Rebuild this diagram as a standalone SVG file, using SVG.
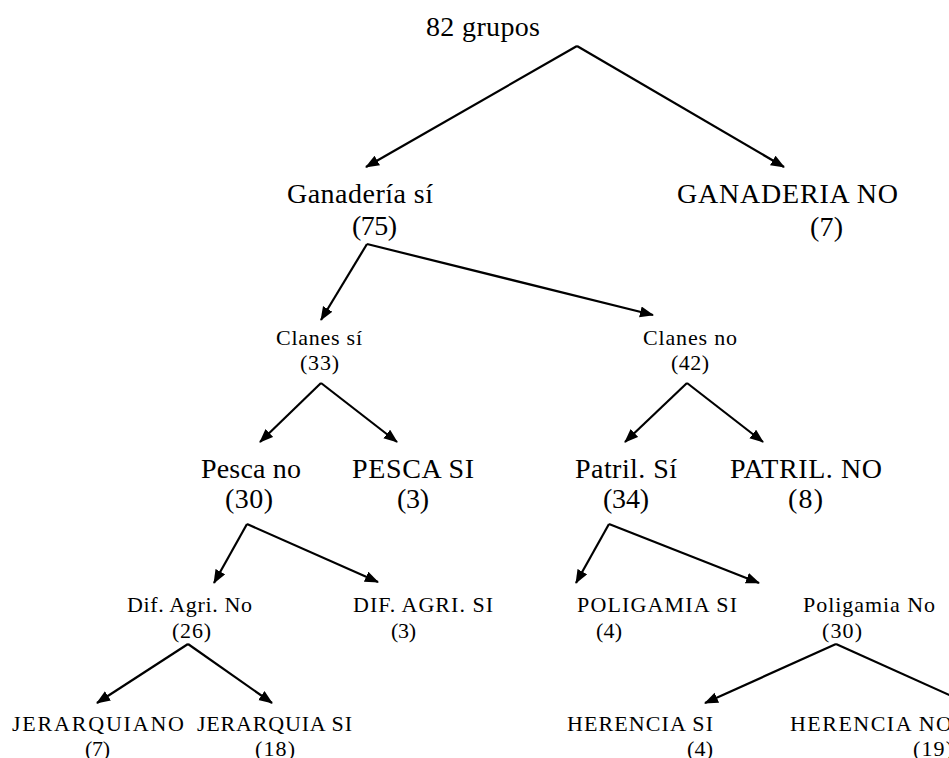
<svg xmlns="http://www.w3.org/2000/svg" width="949" height="758" viewBox="0 0 949 758">
<style>
text{font-family:"Liberation Serif","Times New Roman",serif;fill:#000}
.b{font-size:28px}
.s{font-size:22px}
.c line{stroke:#000;stroke-width:2.2;fill:none}
.c .a{marker-end:url(#ah)}
</style>
<defs>
<marker id="ah" markerUnits="userSpaceOnUse" markerWidth="14" markerHeight="12" refX="13" refY="5.5" orient="auto">
<path d="M0,0 L14,5.5 L0,11 z" fill="#000"/>
</marker>
</defs>
<rect width="949" height="758" fill="#fff"/>
<g id="connectors" class="c">
<line x1="577" y1="46" x2="366" y2="167" class="a"/>
<line x1="577" y1="46" x2="784" y2="167" class="a"/>
<line x1="367" y1="244" x2="321" y2="320" class="a"/>
<line x1="367" y1="244" x2="653" y2="315" class="a"/>
<line x1="321" y1="383" x2="260" y2="442" class="a"/>
<line x1="321" y1="383" x2="397" y2="442" class="a"/>
<line x1="687" y1="383" x2="625" y2="442" class="a"/>
<line x1="687" y1="383" x2="763" y2="442" class="a"/>
<line x1="247" y1="524" x2="214" y2="583" class="a"/>
<line x1="247" y1="524" x2="378" y2="582" class="a"/>
<line x1="609" y1="524" x2="576" y2="583" class="a"/>
<line x1="609" y1="524" x2="759" y2="583" class="a"/>
<line x1="188" y1="644" x2="97" y2="703" class="a"/>
<line x1="188" y1="644" x2="272" y2="703" class="a"/>
<line x1="836" y1="644" x2="705" y2="703" class="a"/>
<line x1="836" y1="644" x2="967" y2="703" class="a"/>
</g>
<g id="n-root"><text class="b" x="426" y="36" textLength="114" lengthAdjust="spacing">82 grupos</text></g>
<g id="n-ganaderia-si">
<text class="b" x="287" y="203" textLength="146" lengthAdjust="spacing">Ganadería sí</text>
<text class="b" x="352" y="235" textLength="45" lengthAdjust="spacing">(75)</text>
</g>
<g id="n-ganaderia-no">
<text class="b" x="677" y="203" textLength="221" lengthAdjust="spacing">GANADERIA NO</text>
<text class="b" x="810" y="236" textLength="33" lengthAdjust="spacing">(7)</text>
</g>
<g id="n-clanes-si">
<text class="s" x="276" y="345" textLength="86" lengthAdjust="spacing">Clanes sí</text>
<text class="s" x="300" y="370" textLength="39" lengthAdjust="spacing">(33)</text>
</g>
<g id="n-clanes-no">
<text class="s" x="643" y="345" textLength="94" lengthAdjust="spacing">Clanes no</text>
<text class="s" x="671" y="370" textLength="38" lengthAdjust="spacing">(42)</text>
</g>
<g id="n-pesca-no">
<text class="b" x="201" y="478" textLength="100" lengthAdjust="spacing">Pesca no</text>
<text class="b" x="225" y="508" textLength="48" lengthAdjust="spacing">(30)</text>
</g>
<g id="n-pesca-si">
<text class="b" x="352" y="478" textLength="122" lengthAdjust="spacing">PESCA SI</text>
<text class="b" x="397" y="508" textLength="32" lengthAdjust="spacing">(3)</text>
</g>
<g id="n-patril-si">
<text class="b" x="575" y="478" textLength="102" lengthAdjust="spacing">Patril. Sí</text>
<text class="b" x="603" y="508" textLength="46" lengthAdjust="spacing">(34)</text>
</g>
<g id="n-patril-no">
<text class="b" x="730" y="478" textLength="152" lengthAdjust="spacing">PATRIL. NO</text>
<text class="b" x="788" y="508" textLength="35" lengthAdjust="spacing">(8)</text>
</g>
<g id="n-difagri-no">
<text class="s" x="127" y="612" textLength="125" lengthAdjust="spacing">Dif. Agri. No</text>
<text class="s" x="172" y="638" textLength="39" lengthAdjust="spacing">(26)</text>
</g>
<g id="n-difagri-si">
<text class="s" x="353" y="612" textLength="140" lengthAdjust="spacing">DIF. AGRI. SI</text>
<text class="s" x="391" y="638" textLength="25" lengthAdjust="spacing">(3)</text>
</g>
<g id="n-poligamia-si">
<text class="s" x="577" y="612" textLength="160" lengthAdjust="spacing">POLIGAMIA SI</text>
<text class="s" x="596" y="638" textLength="26" lengthAdjust="spacing">(4)</text>
</g>
<g id="n-poligamia-no">
<text class="s" x="803" y="612" textLength="132" lengthAdjust="spacing">Poligamia No</text>
<text class="s" x="822" y="638" textLength="40" lengthAdjust="spacing">(30)</text>
</g>
<g id="n-jerarquia-no">
<text class="s" x="12" y="731" textLength="172" lengthAdjust="spacing">JERARQUIANO</text>
<text class="s" x="85" y="756" textLength="25" lengthAdjust="spacing">(7)</text>
</g>
<g id="n-jerarquia-si">
<text class="s" x="197" y="731" textLength="155" lengthAdjust="spacing">JERARQUIA SI</text>
<text class="s" x="255" y="756" textLength="40" lengthAdjust="spacing">(18)</text>
</g>
<g id="n-herencia-si">
<text class="s" x="567" y="731" textLength="146" lengthAdjust="spacing">HERENCIA SI</text>
<text class="s" x="687" y="756" textLength="26" lengthAdjust="spacing">(4)</text>
</g>
<g id="n-herencia-no">
<text class="s" x="790" y="731" textLength="162" lengthAdjust="spacing">HERENCIA NO</text>
<text class="s" x="913" y="756" textLength="40" lengthAdjust="spacing">(19)</text>
</g>
</svg>
